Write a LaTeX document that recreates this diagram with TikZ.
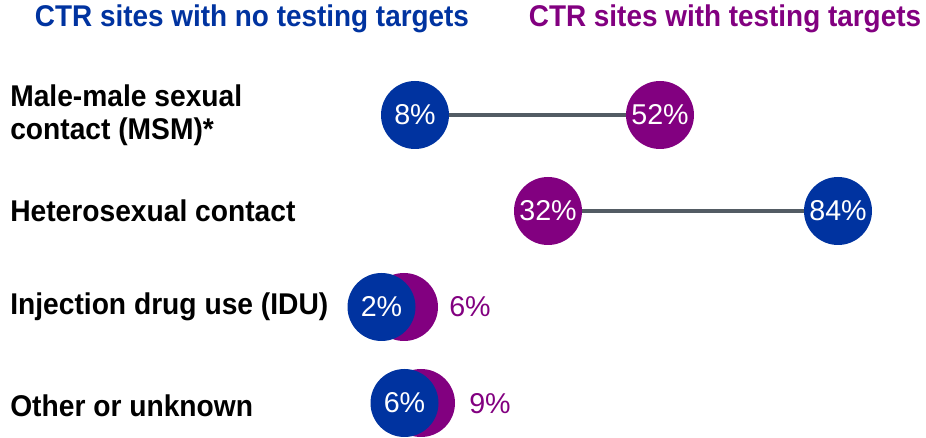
\documentclass[tikz,border=0pt]{standalone}
\usepackage{fontspec}
\setmainfont{Liberation Sans}
\newfontfamily\condfont[FakeStretch=0.93]{Liberation Sans}
\newfontfamily\lblfont[FakeStretch=0.94]{Liberation Sans}
\definecolor{cblue}{HTML}{0033A0}
\definecolor{cpurple}{HTML}{820080}
\definecolor{cgray}{HTML}{535C64}
\begin{document}
\begin{tikzpicture}[x=0.75pt,y=-0.75pt,
  dot/.style={circle,minimum size=51pt,inner sep=0pt,text=white,font=\fontsize{21.5}{22}\selectfont},
  bdot/.style={dot,fill=cblue},
  pdot/.style={dot,fill=cpurple},
  catlabel/.style={anchor=west,inner sep=0pt,align=left,font=\lblfont\bfseries\fontsize{22.5}{25}\selectfont},
  head/.style={inner sep=0pt,font=\condfont\bfseries\fontsize{22.5}{24}\selectfont},
  outpct/.style={text=cpurple,inner sep=0pt,font=\fontsize{21.5}{22}\selectfont},
  conn/.style={draw=cgray,line width=3pt}]
\useasboundingbox (0,0) rectangle (926,438);
% headers
\node[head,text=cblue] (h1) at (252,19) {CTR sites with no testing targets};
\node[head,text=cpurple] (h2) at (725,19) {CTR sites with testing targets};
% labels
\node[catlabel] (l1) at (10,115) {Male-male sexual\\contact (MSM)*};
\node[catlabel] (l2) at (10,211) {Heterosexual contact};
\node[catlabel] (l3) at (10,307) {Injection drug use (IDU)};
\node[catlabel] (l4) at (10,406) {Other or unknown};
% MSM
\node[pdot] (p1) at (660,115) {52\%};
\node[bdot] (b1) at (415,115) {8\%};
\draw[conn] (b1) -- (p1);
% Hetero
\node[pdot] (p2) at (548,211) {32\%};
\node[bdot] (b2) at (838,211) {84\%};
\draw[conn] (p2) -- (b2);
% IDU
\node[pdot] (p3) at (404,307) {};
\node[bdot] (b3) at (381.5,307) {2\%};
\node[outpct] (t3) at (470,307) {6\%};
% Other
\node[pdot] (p4) at (421,403) {};
\node[bdot] (b4) at (404.5,403) {6\%};
\node[outpct] (t4) at (490,404) {9\%};
\end{tikzpicture}
\end{document}
